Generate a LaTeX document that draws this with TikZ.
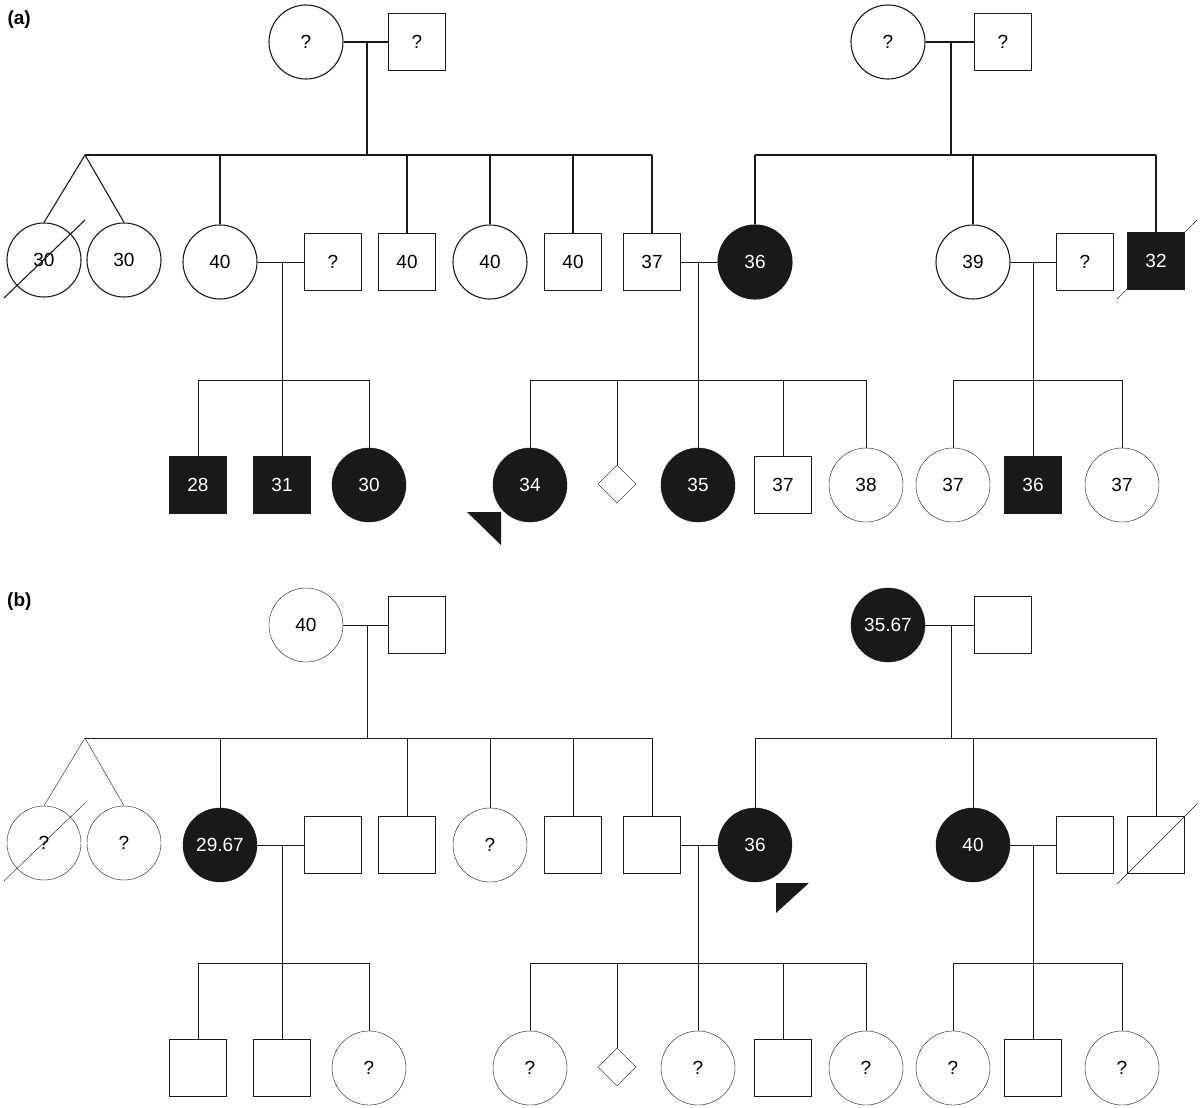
\documentclass[tikz,border=0pt]{standalone}
\usepackage{fontspec}
\setmainfont{Liberation Sans}
\usetikzlibrary{shapes.geometric,calc,backgrounds}
\definecolor{ink}{gray}{0.1}
\begin{document}
\begin{tikzpicture}[x=1pt,y=-1pt,line width=1.1pt,draw=ink,
  every node/.style={font=\fontsize{19}{21}\selectfont},
  fem/.style={draw=ink,circle,minimum size=74pt,inner sep=0pt},
  mal/.style={draw=ink,rectangle,minimum size=57pt,inner sep=0pt},
  unk/.style={draw=ink,diamond,minimum size=38pt,inner sep=0pt},
  aff/.style={fill=ink,text=white},
  plabel/.style={font=\fontsize{19}{21}\selectfont\bfseries,anchor=north west,inner sep=0pt}]
\useasboundingbox (0,0) rectangle (1200,1108);

% ================= (a) =================
\node[plabel] (la) at (7,10) {(a)};
% generation I
\node[fem] (aI1) at (306,42) {?};
\node[mal] (aI2) at (417,42) {?};
\node[fem] (aI3) at (888,42) {?};
\node[mal] (aI4) at (1003,42) {?};
\draw (aI1) -- (aI2);
\draw (aI3) -- (aI4);
\coordinate (aM1) at (367,42);
\coordinate (aM2) at (951,42);
\coordinate (aS1) at (367,155);
\coordinate (aS2) at (951,155);
\coordinate (aS1L) at (85,155);
\coordinate (aS1R) at (652,155);
\coordinate (aS2L) at (755,155);
\coordinate (aS2R) at (1156,155);
\draw (aM1) -- (aS1);
\draw (aM2) -- (aS2);
\draw (aS1L) -- (aS1R);
\draw (aS2L) -- (aS2R);
% generation II
\node[fem] (aII1) at (44,260) {30};
\node[fem] (aII2) at (124,260) {30};
\node[fem] (aII3) at (220,262) {40};
\node[mal] (aII4) at (333,262) {?};
\node[mal] (aII5) at (407,262) {40};
\node[fem] (aII6) at (490,262) {40};
\node[mal] (aII7) at (573,262) {40};
\node[mal] (aII8) at (652,262) {37};
\node[fem,aff] (aII9) at (755,262) {36};
\node[fem] (aII10) at (973,262) {39};
\node[mal] (aII11) at (1085,262) {?};
\node[mal,aff] (aII12) at (1156,261) {32};
\draw (aII1.north) -- (aS1L) -- (aII2.north);
\draw ($(aII1.center)+(-40,38)$) -- ($(aII1.center)+(41,-40)$);
\foreach \n in {aII3,aII5,aII6,aII7,aII8} \draw (\n) -- (\n |- aS1);
\foreach \n in {aII9,aII10,aII12} \draw (\n) -- (\n |- aS2);
\begin{pgfonlayer}{background}
\draw ($(aII12.center)+(-39,38)$) -- ($(aII12.center)+(41,-41)$);
\end{pgfonlayer}
\draw (aII3) -- (aII4);
\draw (aII8) -- (aII9);
\draw (aII10) -- (aII11);
\coordinate (aM3) at (282,262);
\coordinate (aM4) at (698,262);
\coordinate (aM5) at (1033,262);
\coordinate (aS3) at (282,380);
\coordinate (aS4) at (698,380);
\coordinate (aS5) at (1033,380);
\draw (aM3) -- (aS3);
\draw (aM4) -- (aS4);
\draw (aM5) -- (aS5);
% generation III
\node[mal,aff] (aIII1) at (198,485) {28};
\node[mal,aff] (aIII2) at (282,485) {31};
\node[fem,aff] (aIII3) at (369,485) {30};
\node[fem,aff] (aIII4) at (530,485) {34};
\node[unk] (aIII5) at (617,484) {};
\node[fem,aff] (aIII6) at (698,485) {35};
\node[mal] (aIII7) at (783,485) {37};
\node[fem] (aIII8) at (866,485) {38};
\node[fem] (aIII9) at (953,485) {37};
\node[mal,aff] (aIII10) at (1033,485) {36};
\node[fem] (aIII11) at (1122,485) {37};
\draw (aIII1 |- aS3) -- (aIII3 |- aS3);
\draw (aIII4 |- aS4) -- (aIII8 |- aS4);
\draw (aIII9 |- aS5) -- (aIII11 |- aS5);
\foreach \n in {aIII1,aIII2,aIII3} \draw (\n) -- (\n |- aS3);
\foreach \n in {aIII4,aIII5,aIII6,aIII7,aIII8} \draw (\n) -- (\n |- aS4);
\foreach \n in {aIII9,aIII10,aIII11} \draw (\n) -- (\n |- aS5);
\fill[ink] (467,512) -- (501,512) -- (501,545) -- cycle;

% ================= (b) =================
\node[plabel] (lb) at (7,593) {(b)};
\node[fem] (bI1) at (306,625) {40};
\node[mal] (bI2) at (417,625) {};
\node[fem,aff] (bI3) at (888,625) {35.67};
\node[mal] (bI4) at (1003,625) {};
\draw (bI1) -- (bI2);
\draw (bI3) -- (bI4);
\coordinate (bM1) at (367,625);
\coordinate (bM2) at (951,625);
\coordinate (bS1) at (367,738);
\coordinate (bS2) at (951,738);
\coordinate (bS1L) at (85,738);
\coordinate (bS1R) at (652,738);
\coordinate (bS2L) at (755,738);
\coordinate (bS2R) at (1156,738);
\draw (bM1) -- (bS1);
\draw (bM2) -- (bS2);
\draw (bS1L) -- (bS1R);
\draw (bS2L) -- (bS2R);
% generation II
\node[fem] (bII1) at (44,843) {?};
\node[fem] (bII2) at (124,843) {?};
\node[fem,aff] (bII3) at (220,845) {29.67};
\node[mal] (bII4) at (333,845) {};
\node[mal] (bII5) at (407,845) {};
\node[fem] (bII6) at (490,845) {?};
\node[mal] (bII7) at (573,845) {};
\node[mal] (bII8) at (652,845) {};
\node[fem,aff] (bII9) at (755,845) {36};
\node[fem,aff] (bII10) at (973,845) {40};
\node[mal] (bII11) at (1085,845) {};
\node[mal] (bII12) at (1156,845) {};
\draw (bII1.north) -- (bS1L) -- (bII2.north);
\draw ($(bII1.center)+(-40,38)$) -- ($(bII1.center)+(41,-40)$);
\foreach \n in {bII3,bII5,bII6,bII7,bII8} \draw (\n) -- (\n |- bS1);
\foreach \n in {bII9,bII10,bII12} \draw (\n) -- (\n |- bS2);
\draw ($(bII12.center)+(-39,39)$) -- ($(bII12.center)+(41,-41)$);
\draw (bII3) -- (bII4);
\draw (bII8) -- (bII9);
\draw (bII10) -- (bII11);
\coordinate (bM3) at (282,845);
\coordinate (bM4) at (698,845);
\coordinate (bM5) at (1033,845);
\coordinate (bS3) at (282,963);
\coordinate (bS4) at (698,963);
\coordinate (bS5) at (1033,963);
\draw (bM3) -- (bS3);
\draw (bM4) -- (bS4);
\draw (bM5) -- (bS5);
\fill[ink] (776,883) -- (809,883) -- (776,913) -- cycle;
% generation III
\node[mal] (bIII1) at (198,1068) {};
\node[mal] (bIII2) at (282,1068) {};
\node[fem] (bIII3) at (369,1068) {?};
\node[fem] (bIII4) at (530,1068) {?};
\node[unk] (bIII5) at (617,1067) {};
\node[fem] (bIII6) at (698,1068) {?};
\node[mal] (bIII7) at (783,1068) {};
\node[fem] (bIII8) at (866,1068) {?};
\node[fem] (bIII9) at (953,1068) {?};
\node[mal] (bIII10) at (1033,1068) {};
\node[fem] (bIII11) at (1122,1068) {?};
\draw (bIII1 |- bS3) -- (bIII3 |- bS3);
\draw (bIII4 |- bS4) -- (bIII8 |- bS4);
\draw (bIII9 |- bS5) -- (bIII11 |- bS5);
\foreach \n in {bIII1,bIII2,bIII3} \draw (\n) -- (\n |- bS3);
\foreach \n in {bIII4,bIII5,bIII6,bIII7,bIII8} \draw (\n) -- (\n |- bS4);
\foreach \n in {bIII9,bIII10,bIII11} \draw (\n) -- (\n |- bS5);
\end{tikzpicture}
\end{document}
